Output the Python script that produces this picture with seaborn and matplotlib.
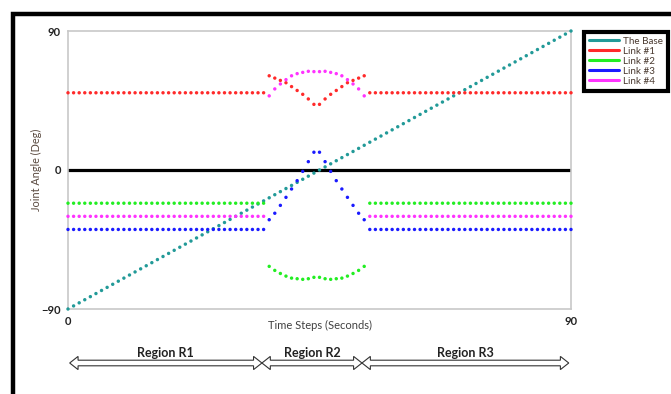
import matplotlib
matplotlib.use("Agg")
import matplotlib.pyplot as plt
from matplotlib.patches import Polygon, Rectangle
from matplotlib.lines import Line2D
import seaborn as sns
import pandas as pd
import numpy as np

# ---------------- data ----------------
time_steps = list(range(0, 91))  # seconds 0..90

base = [-90, -88, -86, -84, -82, -80, -78, -76, -74, -72, -70, -68, -66, -64, -62, -60,
        -58, -56, -54, -52, -50, -48, -46, -44, -42, -40, -38, -36, -34, -32, -30, -28,
        -26, -24, -22, -20, -18, -16, -14, -12, -10, -8, -6, -4, -2, 0, 2, 4, 6, 8, 10,
        12, 14, 16, 18, 20, 22, 24, 26, 28, 30, 32, 34, 36, 38, 40, 42, 44, 46, 48, 50,
        52, 54, 56, 58, 60, 62, 64, 66, 68, 70, 72, 74, 76, 78, 80, 82, 84, 86, 88, 90]

# flat levels outside region R2
link1_level = 50
link2_level = -21.5
link3_level = -38.5
link4_level = -30

# values inside region R2 (t = 36 .. 53)
link1_r2 = [61, 59.5, 58, 56.5, 54, 51.5, 49, 46, 42.5, 42.5, 46, 49, 51.5, 54, 56.5, 58, 59.5, 61]
link2_r2 = [-62.4, -65, -67, -68.7, -70, -70.4, -70.8, -70.4, -69.5, -69.5, -70.4, -70.8, -70.4, -70, -68.7, -67, -65, -62.4]
link3_r2 = [-32.2, -28, -22.9, -17.7, -12.3, -6.9, -0.9, 5.4, 11.5, 11.5, 5.4, -0.9, -6.9, -12.3, -17.7, -22.9, -28, -32.2]
link4_r2 = [48, 52.5, 55.7, 58.5, 61, 62.4, 63.2, 63.9, 63.7, 63.7, 63.9, 63.2, 62.4, 61, 58.5, 55.7, 52.5, 48]

n_before = 36   # t = 0..35
n_after = 37    # t = 54..90

series_names = ["The Base", "Link #1", "Link #2", "Link #3", "Link #4"]
series_colors = ["#229a98", "#ff2a2a", "#22ee22", "#1a1aff", "#ff33ff"]

region_labels = ["Region R1", "Region R2", "Region R3"]
region_bounds = [0.3, 34.7, 52.6, 89.6]

y_ticks = [-90, 0, 90]
x_ticks = [0, 90]


def build(level, mid):
    return [level] * n_before + mid + [level] * n_after


values = {
    "The Base": base,
    "Link #1": build(link1_level, link1_r2),
    "Link #2": build(link2_level, link2_r2),
    "Link #3": build(link3_level, link3_r2),
    "Link #4": build(link4_level, link4_r2),
}

frames = []
for name in series_names:
    frames.append(pd.DataFrame({"t": time_steps, "angle": values[name], "series": name}))
df = pd.concat(frames, ignore_index=True)

# ---------------- figure ----------------
sns.set_theme(style="white")
plt.rcParams["font.family"] = ["Lato", "DejaVu Sans"]

W, H = 671, 394
fig = plt.figure(figsize=(W / 100, H / 100), dpi=100)
fig.patch.set_facecolor("white")

L, R, T, B = 68, 571, 31, 309
ax = fig.add_axes([L / W, 1 - B / H, (R - L) / W, (B - T) / H])

ax.axhline(0, color="black", lw=2.3, zorder=1)

sns.scatterplot(data=df, x="t", y="angle", hue="series", hue_order=series_names,
                palette=series_colors, marker="o", s=6, linewidth=0,
                legend=False, ax=ax, zorder=3, clip_on=False)

ax.set_xlim(0, 90)
ax.set_ylim(-90, 90)
ax.set_xticks(x_ticks)
ax.set_yticks(y_ticks)
ax.tick_params(length=0, pad=5, labelsize=8, colors="#222222")
for lab in ax.get_xticklabels() + ax.get_yticklabels():
    lab.set_fontweight("bold")
for s in ax.spines.values():
    s.set_color("#c8c8c8")
    s.set_linewidth(1.2)

ax.set_xlabel("Time Steps (Seconds)", fontsize=8, color="#404040")
ax.xaxis.set_label_coords(0.5, -0.04)
ax.set_ylabel("Joint Angle (Deg)", fontsize=7.8, color="#5a4a40")
ax.yaxis.set_label_coords(-0.052, 0.5)

# legend
handles = [Line2D([0], [0], color=c, lw=2.2) for c in series_colors]
leg = fig.legend(handles, series_names, loc="upper left",
                 bbox_to_anchor=(584 / W, 1 - 32 / H), fontsize=7.1,
                 frameon=True, fancybox=False, framealpha=1,
                 edgecolor="black", handlelength=3.0, handletextpad=0.5,
                 labelspacing=0.1, borderpad=0.5, borderaxespad=0,
                 labelcolor="#4a3a30")
leg.get_frame().set_linewidth(3)

# region arrows
ax2 = fig.add_axes([L / W, 1 - 373 / H, (R - L) / W, 20 / H])
ax2.set_xlim(0, 90)
ax2.set_ylim(0, 1)
ax2.axis("off")
head_len = 1.5
hh, sh = 0.33, 0.14
yc = 0.5
for i, lab in enumerate(region_labels):
    x0, x1 = region_bounds[i], region_bounds[i + 1]
    pts = [(x0, yc), (x0 + head_len, yc + hh), (x0 + head_len, yc + sh),
           (x1 - head_len, yc + sh), (x1 - head_len, yc + hh), (x1, yc),
           (x1 - head_len, yc - hh), (x1 - head_len, yc - sh),
           (x0 + head_len, yc - sh), (x0 + head_len, yc - hh)]
    ax2.add_patch(Polygon(pts, closed=True, facecolor="white", edgecolor="#333333",
                          lw=0.8, clip_on=False))
    ax2.text((x0 + x1) / 2, yc + 0.5, lab, ha="center", va="center",
             fontsize=9, fontweight="bold", color="#222222")

# outer black frame (cropped)
fig.add_artist(Rectangle((12.5 / W, -0.2), 1.2, 1.2 - 14 / H,
                         transform=fig.transFigure, fill=False,
                         edgecolor="black", lw=3.2))

fig.savefig("out.png", dpi=100)
